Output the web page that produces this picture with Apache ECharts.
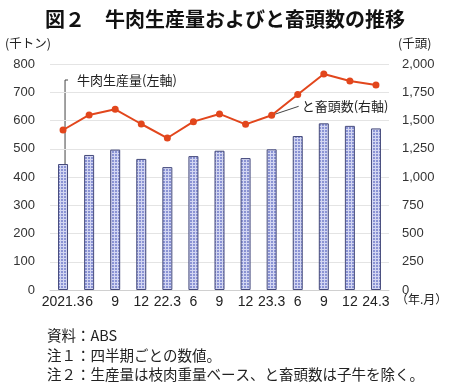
<!DOCTYPE html>
<html><head><meta charset="utf-8">
<script src="https://cdn.jsdelivr.net/npm/echarts@6/dist/echarts.min.js"></script>
<style>html,body{margin:0;padding:0;background:#fff}#c{width:450px;height:389px}</style>
</head><body><div id="c"></div>
<script>
const categories = ['2021.3','6','9','12','22.3','6','9','12','23.3','6','9','12','24.3'];
const production = [446, 478, 497, 464, 435, 474, 493, 467, 498, 545, 590, 581, 572];
const slaughter = [1416, 1549, 1599, 1469, 1345, 1490, 1558, 1466, 1546, 1730, 1912, 1850, 1814];
const leftTicks = [0,100,200,300,400,500,600,700,800];
const rightTicks = [0,250,500,750,1000,1250,1500,1750,2000];

const FONT = '"Noto Sans CJK JP", "Noto Sans", sans-serif';
const NUMF = '"Liberation Sans", Arial, sans-serif';
const pc = document.createElement('canvas');
pc.width = 3; pc.height = 3;
const px = pc.getContext('2d');
px.fillStyle = '#8a93d4'; px.fillRect(0,0,3,3);
px.fillStyle = '#d3d6f2'; px.fillRect(0,0,3,1); px.fillRect(0,0,1,3);

const chart = echarts.init(document.getElementById('c'));
const option = {
  animation: false,
  textStyle: {fontFamily: FONT},
  title: {text: '図２　牛肉生産量およびと畜頭数の推移', left: 'center', top: 4,
    textStyle: {fontFamily: FONT, fontSize: 20, fontWeight: 'bold', color: '#111'}},
  grid: {left: 50, right: 61, top: 64, bottom: 99},
  xAxis: {type: 'category', data: categories, boundaryGap: true,
    axisLine: {lineStyle: {color: '#d0d0d0'}}, axisTick: {show: false},
    axisLabel: {color: '#222', fontSize: 14, margin: 5, interval: 0, fontFamily: NUMF}},
  yAxis: [
    {type: 'value', min: 0, max: 800, interval: 100,
     axisLabel: {color: '#333', fontSize: 13, margin: 15, fontFamily: NUMF},
     splitLine: {lineStyle: {color: '#e4e4e4'}}, axisLine: {show: false}, axisTick: {show: false}},
    {type: 'value', min: 0, max: 2000, interval: 250,
     axisLabel: {color: '#333', fontSize: 13, margin: 13, fontFamily: NUMF,
       formatter: v => v.toLocaleString('en-US')},
     splitLine: {show: false}, axisLine: {show: false}, axisTick: {show: false}}
  ],
  series: [
    {type: 'bar', name: '牛肉生産量', data: production, yAxisIndex: 0, barWidth: 10,
     itemStyle: {color: {image: pc, repeat: 'repeat'}, borderColor: '#464b7c', borderWidth: 1}},
    {type: 'line', name: 'と畜頭数', data: slaughter, yAxisIndex: 1, symbol: 'circle', symbolSize: 7,
     lineStyle: {color: '#e2461c', width: 2}, itemStyle: {color: '#e2461c'}}
  ],
  graphic: [
    {type: 'text', left: 5, top: 37, style: {text: '(千トン)', font: '12.5px ' + FONT, fill: '#222'}},
    {type: 'text', left: 398, top: 37, style: {text: '(千頭)', font: '12.5px ' + FONT, fill: '#222'}},
    {type: 'text', left: 396, top: 293, style: {text: '（年.月）', font: '12px ' + FONT, fill: '#222'}},
    {type: 'text', left: 47, top: 328, style: {text: '資料：ABS', font: '14.5px ' + FONT, fill: '#222'}},
    {type: 'text', left: 47, top: 348, style: {text: '注１：四半期ごとの数値。', font: '14.5px ' + FONT, fill: '#222'}},
    {type: 'text', left: 47, top: 367, style: {text: '注２：生産量は枝肉重量ベース、と畜頭数は子牛を除く。', font: '14.5px ' + FONT, fill: '#222'}}
  ]
};
chart.setOption(option);

const b0 = chart.convertToPixel({seriesIndex: 0}, [0, production[0]]);
const p8 = chart.convertToPixel({seriesIndex: 1}, [8, slaughter[8]]);
const lx = b0[0] + 2, ly = 80;
chart.setOption({graphic: option.graphic.concat([
  {type: 'polyline', shape: {points: [[lx, b0[1]], [lx, ly], [lx + 3, ly]]}, style: {stroke: '#444', lineWidth: 1, fill: null}},
  {type: 'text', x: lx + 12, y: ly, style: {text: '牛肉生産量(左軸)', font: '13px ' + FONT, fill: '#222', textVerticalAlign: 'middle'}},
  {type: 'line', shape: {x1: p8[0], y1: p8[1], x2: p8[0] + 27, y2: p8[1] - 9}, style: {stroke: '#444', lineWidth: 1}},
  {type: 'text', x: p8[0] + 30, y: p8[1] - 9, style: {text: 'と畜頭数(右軸)', font: '13px ' + FONT, fill: '#222', textVerticalAlign: 'middle'}}
])});
</script></body></html>
